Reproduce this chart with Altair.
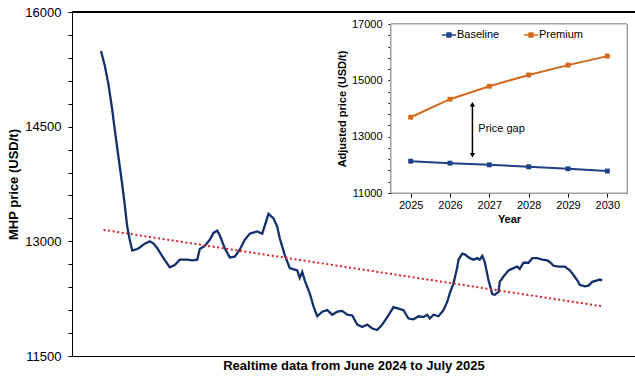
import altair as alt
import pandas as pd

# MHP realtime price (USD/t), day index counted from early June 2024
days = [0, 3, 6, 9, 11, 14, 17, 19, 20, 21, 23, 25, 29, 31, 35, 39, 42, 45, 50, 55,
        59, 63, 69, 73, 77, 79, 83, 87, 90, 93, 95, 99, 103, 107, 111, 115, 119, 125, 129, 134,
        138, 141, 143, 147, 151, 157, 159, 161, 163, 167, 170, 173, 177, 181, 185, 189, 193, 197, 201, 205,
        209, 213, 217, 221, 225, 229, 234, 238, 242, 246, 250, 254, 258, 261, 263, 266, 270, 274, 277, 279,
        282, 285, 286, 289, 291, 295, 298, 301, 303, 305, 307, 310, 313, 315, 318, 319, 322, 326, 330, 333,
        335, 338, 342, 345, 349, 353, 357, 359, 362, 366, 371, 375, 378, 381, 383, 387, 390, 393, 397, 399,
        401]
prices = [15490, 15300, 15050, 14720, 14460, 14100, 13740, 13480, 13330, 13190, 13020, 12880, 12900, 12920, 12970, 13000, 12970, 12910, 12780, 12660,
          12690, 12760, 12760, 12750, 12760, 12900, 12940, 13020, 13110, 13140, 13080, 12910, 12790, 12800, 12890, 13020, 13100, 13130, 13100, 13360,
          13300, 13190, 13040, 12820, 12650, 12620, 12520, 12600, 12490, 12320, 12150, 12020, 12080, 12100, 12040, 12080, 12090, 12040, 12030, 11910,
          11880, 11910, 11860, 11840, 11910, 12010, 12140, 12120, 12100, 11990, 11980, 12020, 12010, 12040, 11990, 12040, 12020, 12100, 12210, 12320,
          12450, 12660, 12760, 12840, 12830, 12780, 12760, 12780, 12760, 12810, 12730, 12490, 12310, 12300, 12340, 12470, 12540, 12620, 12650, 12670,
          12640, 12720, 12720, 12780, 12780, 12760, 12750, 12730, 12680, 12670, 12670, 12620, 12560, 12490, 12430, 12410, 12420, 12470, 12490, 12500,
          12490]

# Linear trend of the realtime series
trend_days = [2, 401]
trend_prices = [13150, 12150]

# Projected adjusted prices (USD/t)
years = [2025, 2026, 2027, 2028, 2029, 2030]
baseline = [12130, 12060, 12000, 11930, 11860, 11780]
premium = [13690, 14330, 14790, 15190, 15540, 15860]
series_names = ["Baseline", "Premium"]
series_colors = ["#1f3f87", "#d2691e"]

# Price-gap annotation
gap_year = 2026.57
gap_top = 14150
gap_bottom = 12340
gap_label = "Price gap"
gap_label_pos = (2026.72, 13260)

FONT = "Liberation Sans"

main_df = pd.DataFrame({"day": days, "price": prices})
trend_df = pd.DataFrame({"day": trend_days, "price": trend_prices})
proj_df = pd.DataFrame({
    "year": years * 2,
    "price": baseline + premium,
    "series": ["Baseline"] * len(years) + ["Premium"] * len(years),
})

# ---------- main panel ----------
x_main = alt.Scale(domain=[-23.2, 427.2], nice=False, zero=False)
y_main = alt.Scale(domain=[11500, 16000], nice=False, zero=False)

x_main_axis = alt.Axis(
    title="Realtime data from June 2024 to July 2025", labels=False, ticks=False, grid=False,
    domainColor="black", titleFontSize=13, titleFont=FONT, titleFontWeight="bold",
    titleColor="black", titlePadding=3,
)
y_main_axis = alt.Axis(
    title="MHP price (USD/t)", values=list(range(11500, 16001, 300)), format="d",
    labelExpr="(datum.value - 11500) % 1500 == 0 ? datum.label : ''", labelOverlap=False,
    tickSize=4, labelPadding=7, labelFontSize=13, labelFont=FONT, labelColor="black",
    domainColor="black", tickColor="black", grid=False, titleFontSize=13, titleFont=FONT,
    titleFontWeight="bold", titleColor="black", titlePadding=4,
)

top_rule = alt.Chart(main_df).mark_rule(color="black", strokeWidth=1).encode(
    y=alt.YDatum(16000, scale=y_main, axis=y_main_axis)
)

price_line = alt.Chart(main_df).mark_line(color="#13306c", strokeWidth=2.3).encode(
    x=alt.X("day:Q", scale=x_main, axis=x_main_axis),
    y=alt.Y("price:Q", scale=y_main, axis=y_main_axis),
)

trend_line = alt.Chart(trend_df).mark_line(
    color="#d62222", strokeWidth=2, strokeDash=[2, 2.6]
).encode(
    x=alt.X("day:Q", scale=x_main, axis=x_main_axis),
    y=alt.Y("price:Q", scale=y_main, axis=y_main_axis),
)

main = alt.layer(top_rule, price_line, trend_line)

# ---------- inset panel (placed with pixel ranges inside the main plot area) ----------
x_in = alt.Scale(domain=[2024.5, 2030.5], range=[319, 555], nice=False, zero=False)
y_in = alt.Scale(domain=[11000, 17000], range=[181, 12], nice=False, zero=False)

x_in_axis = alt.Axis(
    title="Year", values=years, format="d", orient="bottom", offset=-163, tickSize=4,
    labelPadding=2, labelFontSize=11, labelFont=FONT, labelColor="black", domainColor="black",
    tickColor="black", grid=False, titleFontSize=11, titleFont=FONT, titleFontWeight="bold",
    titleColor="black", titlePadding=3,
)
y_in_axis = alt.Axis(
    title="Adjusted price (USD/t)", values=list(range(11000, 17001, 400)), format="d",
    labelExpr="(datum.value - 11000) % 2000 == 0 ? datum.label : ''", labelOverlap=False,
    orient="left", offset=-319, tickSize=3, labelPadding=6, labelFontSize=11, labelFont=FONT,
    labelColor="black", domainColor="black", tickColor="black", grid=False, titleFontSize=11,
    titleFont=FONT, titleFontWeight="bold", titleColor="black", titlePadding=4,
)

color_scale = alt.Scale(domain=series_names, range=series_colors)
legend = alt.Legend(
    title=None, orient="none", legendX=370, legendY=16, direction="horizontal",
    symbolType="M-1,-0.12L1,-0.12L1,0.12L-1,0.12ZM-0.38,-0.38L0.38,-0.38L0.38,0.38L-0.38,0.38Z",
    symbolSize=196, symbolStrokeWidth=0, labelFontSize=11, labelFont=FONT,
    labelColor="black", columnPadding=24, labelOffset=1, padding=0,
)

box = alt.Chart(main_df).mark_rect(fill="white", stroke="#a0a0a0", strokeWidth=1).encode(
    x=alt.XDatum(2024.5, scale=x_in, axis=x_in_axis),
    x2=alt.X2Datum(2030.5),
    y=alt.YDatum(11000, scale=y_in, axis=y_in_axis),
    y2=alt.Y2Datum(17000),
)

proj_lines = alt.Chart(proj_df).mark_line(strokeWidth=2).encode(
    x=alt.X("year:Q", scale=x_in, axis=x_in_axis),
    y=alt.Y("price:Q", scale=y_in, axis=y_in_axis),
    color=alt.Color("series:N", scale=color_scale, legend=legend),
)

proj_points = alt.Chart(proj_df).mark_point(shape="square", filled=True, size=24, opacity=1).encode(
    x=alt.X("year:Q", scale=x_in, axis=x_in_axis),
    y=alt.Y("price:Q", scale=y_in, axis=y_in_axis),
    color=alt.Color("series:N", scale=color_scale, legend=legend),
)

gap_df = pd.DataFrame({"year": [gap_year], "top": [gap_top], "bottom": [gap_bottom]})
gap_rule = alt.Chart(gap_df).mark_rule(color="black", strokeWidth=1.5).encode(
    x=alt.X("year:Q", scale=x_in, axis=x_in_axis),
    y=alt.Y("top:Q", scale=y_in, axis=y_in_axis),
    y2="bottom:Q",
)
gap_head_up = alt.Chart(gap_df).mark_point(shape="triangle-up", filled=True, size=28, color="black", opacity=1).encode(
    x=alt.X("year:Q", scale=x_in, axis=x_in_axis),
    y=alt.Y("top:Q", scale=y_in, axis=y_in_axis),
)
gap_head_down = alt.Chart(gap_df).mark_point(shape="triangle-down", filled=True, size=28, color="black", opacity=1).encode(
    x=alt.X("year:Q", scale=x_in, axis=x_in_axis),
    y=alt.Y("bottom:Q", scale=y_in, axis=y_in_axis),
)
label_df = pd.DataFrame({"year": [gap_label_pos[0]], "price": [gap_label_pos[1]], "text": [gap_label]})
gap_text = alt.Chart(label_df).mark_text(
    align="left", baseline="middle", fontSize=11, font=FONT, color="black"
).encode(
    x=alt.X("year:Q", scale=x_in, axis=x_in_axis),
    y=alt.Y("price:Q", scale=y_in, axis=y_in_axis),
    text="text:N",
)

inset = alt.layer(box, proj_lines, proj_points, gap_rule, gap_head_up, gap_head_down, gap_text)

chart = (
    alt.layer(main, inset)
    .resolve_scale(x="independent", y="independent")
    .properties(
        width=563, height=344, autosize=alt.AutoSizeParams(type="none"),
        padding={"left": 72, "top": 12, "right": 0, "bottom": 20},
        background="white",
    )
    .configure_view(strokeWidth=0)
)

chart.save("out.html", embed_options={"renderer": "svg", "actions": False})
